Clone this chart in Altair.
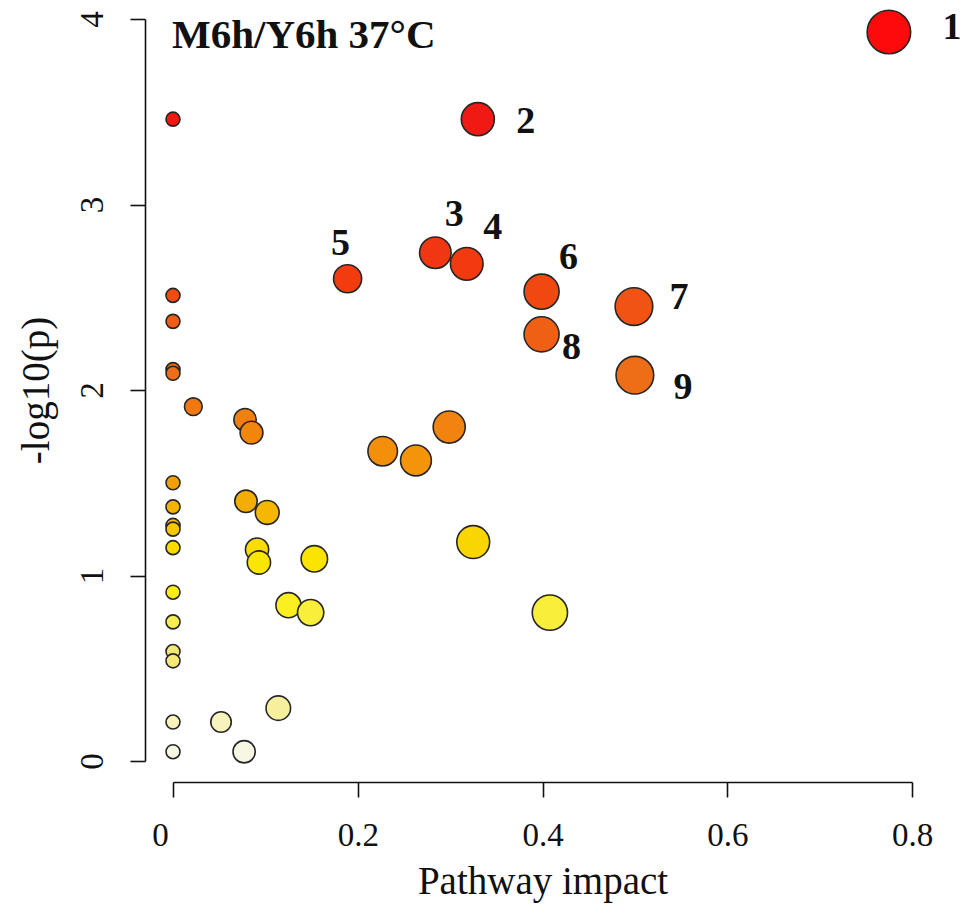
import altair as alt
import pandas as pd

# Pathway impact (x) and -log10(p) (y)
impact = [0.775, 0.330, 0.284, 0.318, 0.189, 0.399, 0.499, 0.399, 0.500,
          0, 0, 0, 0, 0, 0, 0, 0, 0, 0, 0, 0, 0, 0, 0, 0,
          0.022, 0.078, 0.085, 0.227, 0.263, 0.299, 0.079, 0.102, 0.091,
          0.093, 0.153, 0.325, 0.125, 0.149, 0.408, 0.052, 0.114, 0.077]
logp = [3.93, 3.46, 2.74, 2.68, 2.60, 2.53, 2.45, 2.30, 2.08,
        3.46, 2.51, 2.37, 2.11, 2.09, 1.50, 1.37, 1.27, 1.25, 1.15, 0.91,
        0.75, 0.59, 0.54, 0.21, 0.05,
        1.91, 1.84, 1.77, 1.67, 1.62, 1.80, 1.40, 1.34, 1.14,
        1.07, 1.09, 1.18, 0.84, 0.80, 0.80, 0.21, 0.285, 0.05]
labels = ["1", "2", "3", "4", "5", "6", "7", "8", "9"] + [""] * 34

x_ticks = [0, 0.2, 0.4, 0.6, 0.8]
y_ticks = [0, 1, 2, 3, 4]
title_text = ["M6h/Y6h 37°C"]

# label offsets (annotation style) for labels 1..9
label_dx = [63, 48, 19, 26, -7, 27, 45, 30, 48]
label_dy = [-4, 3, -38, -36, -35, -34, -9, 14, 13]

color_dom = [0.0, 0.2, 0.3, 0.6, 0.75, 0.85, 1.1, 1.2, 1.3, 1.45, 1.7, 1.9, 2.1, 2.4, 2.6, 3.4, 4.0]
color_rng = ["#f8f8ee", "#f7f3c0", "#f6ee98", "#f3e870", "#f7ee50", "#fbee18", "#fbe400",
             "#f9d200", "#f5be00", "#f2a408", "#f38c0c", "#ef7a10", "#ee6c18", "#f05a14",
             "#f23c10", "#ee1a14", "#ff0808"]

df = pd.DataFrame({"impact": impact, "logp": logp, "label": labels})

FONT = "Liberation Serif"

x_enc = alt.X("impact:Q", scale=alt.Scale(domain=[0, 0.8], nice=False, zero=False),
              axis=alt.Axis(values=x_ticks, title="Pathway impact", offset=21,
                            labelExpr="datum.value == 0 ? '0' : format(datum.value, '.1f')",
                            labelFlush=False,
                            labelOffset={"condition": {"test": "datum.value == 0", "value": -13},
                                         "value": 0},
                            labelPadding=22, titlePadding=10))
y_enc = alt.Y("logp:Q", scale=alt.Scale(domain=[0, 4], nice=False, zero=False),
              axis=alt.Axis(values=y_ticks, title="-log10(p)", offset=28, format="d",
                            labelAngle=270, labelAlign="center", labelBaseline="alphabetic",
                            labelPadding=28, titlePadding=20))

points = alt.Chart(df).mark_circle(opacity=1, stroke="#262626", strokeWidth=1.6).encode(
    x=x_enc,
    y=y_enc,
    color=alt.Color("logp:Q", scale=alt.Scale(domain=color_dom, range=color_rng), legend=None),
    size=alt.Size("impact:Q", scale=alt.Scale(type="pow", exponent=0.75, domain=[0, 0.8],
                                                range=[196, 1936]), legend=None),
    order=alt.Order("idx:Q"),
).transform_window(idx="row_number()")

layers = [points]
for i in range(9):
    lab = labels[i]
    t = alt.Chart(df).transform_filter(alt.datum.label == lab).mark_text(
        font=FONT, fontSize=38, fontWeight="bold", color="#111111",
        align="center", baseline="middle", dx=label_dx[i], dy=label_dy[i]
    ).encode(x="impact:Q", y="logp:Q", text="label:N")
    layers.append(t)

title_layer = alt.Chart(pd.DataFrame({"t": title_text})).mark_text(
    font=FONT, fontSize=41, fontWeight="bold", color="#111111",
    align="left", baseline="alphabetic"
).encode(x=alt.value(-1), y=alt.value(29), text="t:N")
layers.append(title_layer)

chart = alt.layer(*layers).properties(
    width=739, height=742,
    autosize=alt.AutoSizeParams(type="none"),
    padding={"left": 173, "top": 19, "right": 54, "bottom": 146},
    background="white",
).configure_view(stroke=None).configure_axis(
    grid=False, domainColor="#111111", domainWidth=1.6, tickColor="#111111", tickWidth=1.6,
    tickSize=15, labelFont=FONT, labelFontSize=33, labelColor="#111111",
    titleFont=FONT, titleFontSize=39, titleFontWeight="normal", titleColor="#111111",
)

chart.save("out.html", embed_options={"renderer": "svg", "actions": False})
